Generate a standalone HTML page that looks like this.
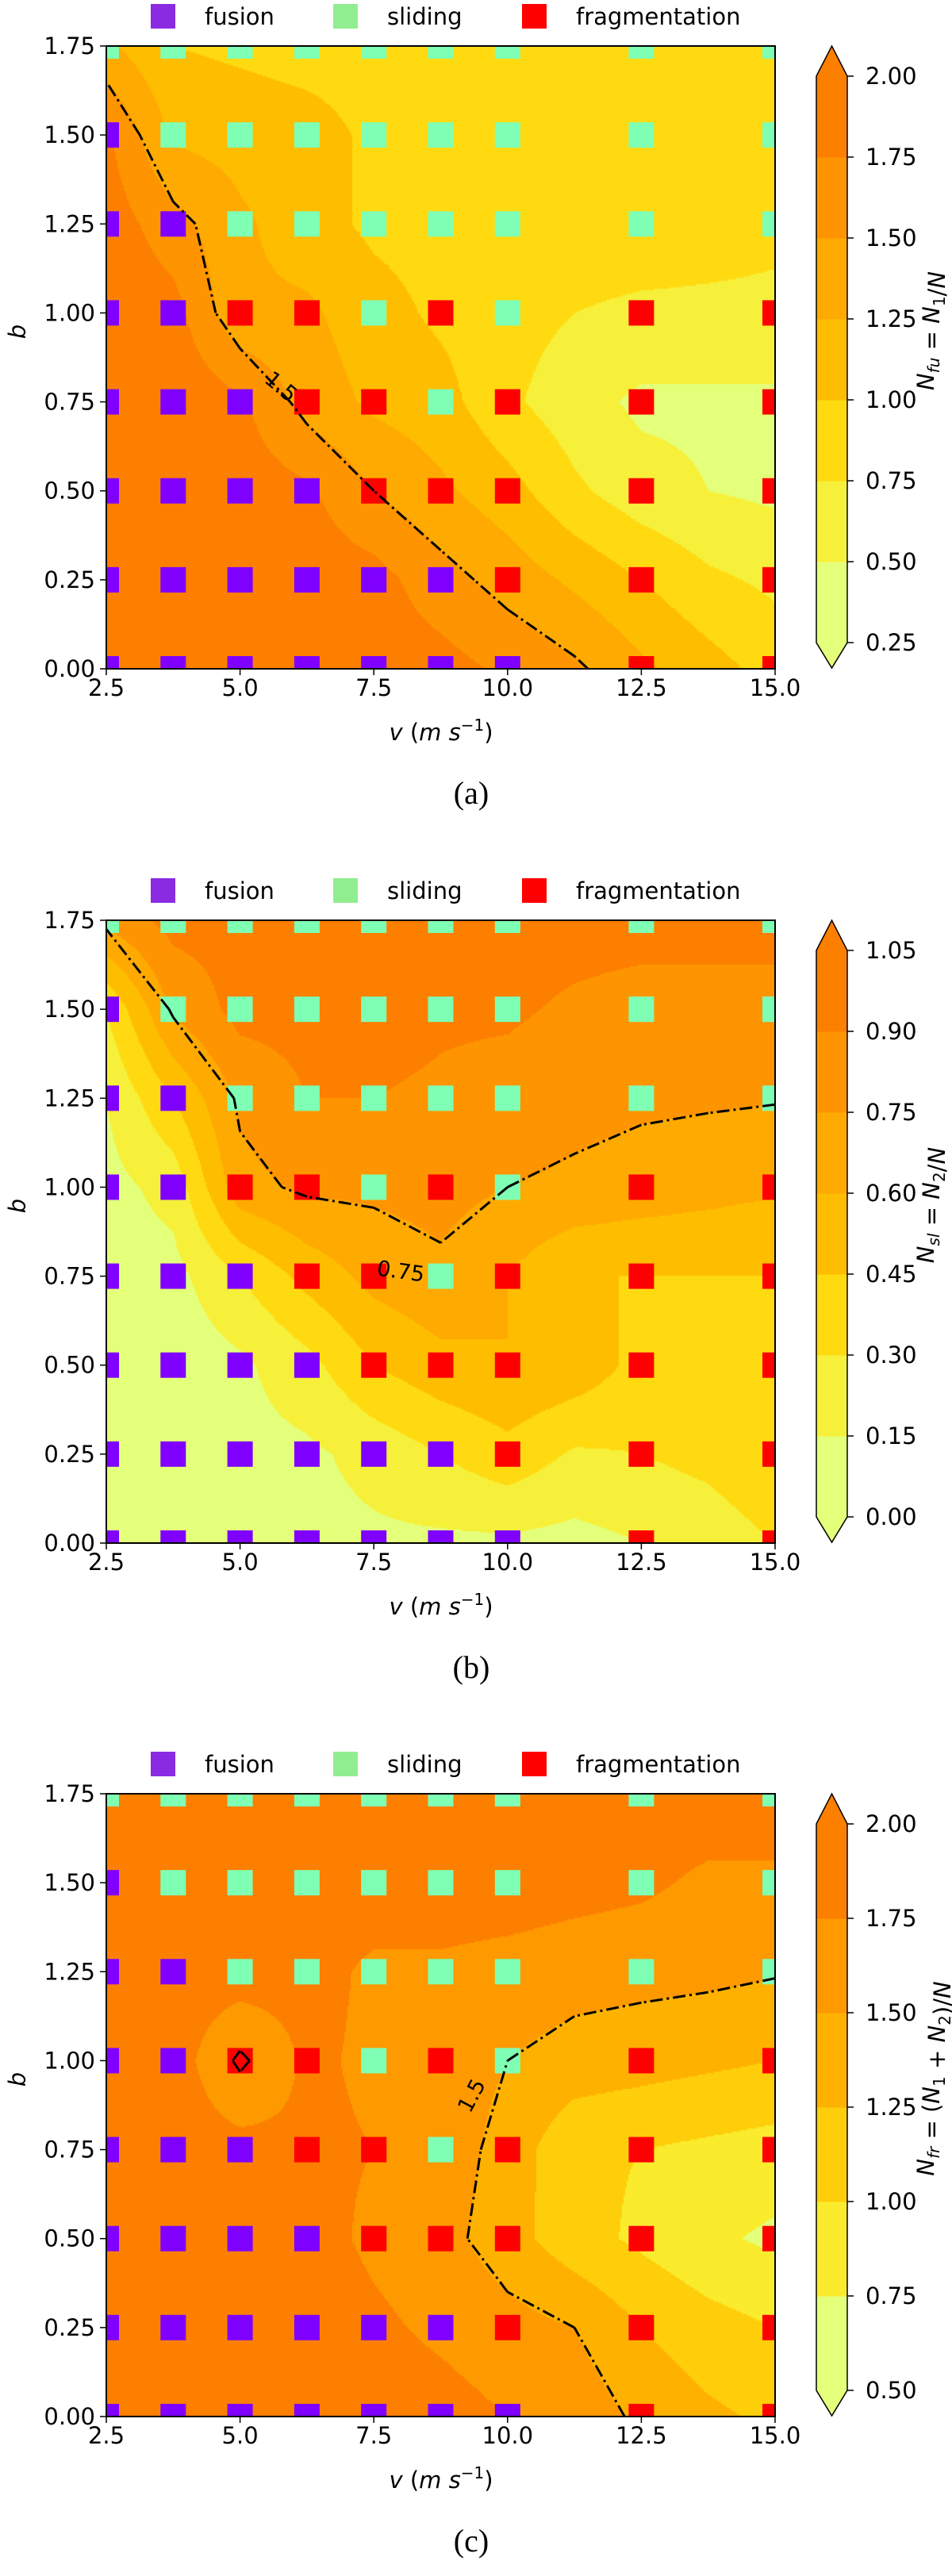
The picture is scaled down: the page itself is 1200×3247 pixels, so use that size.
<!DOCTYPE html>
<html><head><meta charset="utf-8">
<style>
html,body{margin:0;padding:0;background:#fff;}
#wrap{position:relative;width:1200px;height:3247px;overflow:hidden;}
canvas{position:absolute;left:0;}
svg{position:absolute;left:0;top:0;}
text{font-family:"DejaVu Sans","Liberation Sans",sans-serif;fill:#000;}
</style></head>
<body>
<div id="wrap">
<canvas id="c0" width="843" height="785" style="left:134px;top:58px"></canvas>
<canvas id="c1" width="843" height="785" style="left:134px;top:1160px"></canvas>
<canvas id="c2" width="843" height="785" style="left:134px;top:2261px"></canvas>
<svg id="svg" width="1200" height="3247" xmlns="http://www.w3.org/2000/svg"></svg>
</div>
<script>
// ---- data ----
const vGrid = [2.5,3.75,5,6.25,7.5,8.75,10,11.25,12.5,13.75,15];
const bGrid = [0,0.25,0.5,0.75,1.0,1.25,1.5,1.75];
// rows from b=0 upward
const nfuValues = [
 [1.95,1.95,1.95,1.95,1.9,1.85,1.7,1.55,1.3,1.1,0.9],
 [1.95,1.95,1.95,1.9,1.85,1.6,1.4,1.2,1.0,0.8,0.7],
 [1.95,1.95,1.9,1.8,1.5,1.3,1.1,0.8,0.6,0.5,0.45],
 [1.95,1.95,1.8,1.4,1.2,1.1,0.8,0.6,0.45,0.45,0.45],
 [1.95,1.85,1.3,1.3,1.1,0.95,0.85,0.75,0.7,0.7,0.7],
 [1.9,1.6,1.3,1.1,0.95,0.9,0.9,0.9,0.9,0.85,0.8],
 [1.8,1.2,1.15,1.1,0.95,0.9,0.9,0.9,0.9,0.9,0.9],
 [1.3,1.0,0.95,0.9,0.9,0.9,0.9,0.9,0.9,0.9,0.9]
];
const nslValues = [
 [0.1,0.1,0.1,0.1,0.12,0.12,0.12,0.1,0.15,0.2,0.3],
 [0.1,0.05,0.1,0.12,0.2,0.3,0.4,0.28,0.3,0.35,0.45],
 [0.05,0.05,0.12,0.25,0.45,0.55,0.6,0.55,0.4,0.35,0.3],
 [0.08,0.1,0.3,0.5,0.65,0.72,0.6,0.45,0.45,0.45,0.45],
 [0.1,0.2,0.7,0.78,0.78,0.8,0.75,0.72,0.68,0.65,0.62],
 [0.15,0.45,0.78,0.9,0.9,0.88,0.85,0.8,0.78,0.77,0.76],
 [0.3,0.78,0.95,0.95,0.95,0.92,0.92,0.88,0.85,0.85,0.85],
 [0.8,0.95,0.95,0.95,0.95,0.95,0.95,0.95,0.95,0.95,0.95]
];
const nfrValues = [
 [1.9,1.9,1.9,1.9,1.9,1.85,1.75,1.65,1.45,1.3,1.2],
 [1.9,1.9,1.9,1.9,1.8,1.7,1.6,1.5,1.25,1.1,1.0],
 [1.9,1.9,1.9,1.85,1.7,1.6,1.35,1.1,0.95,0.8,0.7],
 [1.9,1.9,1.85,1.8,1.75,1.65,1.4,1.05,1.0,0.95,0.9],
 [1.9,1.9,1.45,1.8,1.7,1.65,1.5,1.4,1.35,1.3,1.25],
 [1.9,1.9,1.9,1.85,1.7,1.7,1.65,1.6,1.58,1.56,1.52],
 [1.9,1.9,2.05,1.9,1.9,1.9,1.9,1.85,1.8,1.7,1.7],
 [1.9,1.9,1.9,1.9,1.9,1.9,1.9,1.9,1.9,1.9,1.9]
];
const levelsA = [0.25,0.5,0.75,1.0,1.25,1.5,1.75,2.0];
const levelsB = [0,0.15,0.3,0.45,0.6,0.75,0.9,1.05];
const levelsC = [0.5,0.75,1.0,1.25,1.5,1.75,2.0];
const tickLabelsA = ["0.25","0.50","0.75","1.00","1.25","1.50","1.75","2.00"];
const tickLabelsB = ["0.00","0.15","0.30","0.45","0.60","0.75","0.90","1.05"];
const tickLabelsC = ["0.50","0.75","1.00","1.25","1.50","1.75","2.00"];
const contourLevelA = 1.5, contourLevelB = 0.75, contourLevelC = 1.5;
// outcome markers
const markerV = [2.5,3.75,5,6.25,7.5,8.75,10,12.5,15];
const markerB = [0,0.25,0.5,0.75,1.0,1.25,1.5,1.75];
// F=fusion S=sliding R=fragmentation, rows from b=0 upward
const outcomes = [
 "FFFFFFFRR",
 "FFFFFFRRR",
 "FFFFRRRRR",
 "FFFRRSRRR",
 "FFRRSRSRR",
 "FFSSSSSSS",
 "FSSSSSSSS",
 "SSSSSSSSS"
];
const xTicks = [2.5,5.0,7.5,10.0,12.5,15.0];
const xTickLabels = ["2.5","5.0","7.5","10.0","12.5","15.0"];
const yTicks = [0,0.25,0.5,0.75,1.0,1.25,1.5,1.75];
const yTickLabels = ["0.00","0.25","0.50","0.75","1.00","1.25","1.50","1.75"];

// ---- geometry ----
const PL=134, PW=843, PT=58, PH=785;
const CBX=1029, CBW=39, CBT=96, CBB=810;
const NS="http://www.w3.org/2000/svg";
const svg=document.getElementById('svg');
function el(tag,attrs,parent){const e=document.createElementNS(NS,tag);for(const k in attrs)e.setAttribute(k,attrs[k]);(parent||svg).appendChild(e);return e;}

function wistia(t){
  const r=[[0,.894],[.25,1],[.5,1],[.75,1],[1,.988]];
  const g=[[0,1],[.25,.909],[.5,.741],[.75,.627],[1,.498]];
  const b=[[0,.478],[.25,.102],[.5,0],[.75,0],[1,0]];
  function ip(a){for(let i=0;i<a.length-1;i++){if(t<=a[i+1][0]){const f=(t-a[i][0])/(a[i+1][0]-a[i][0]);return a[i][1]+f*(a[i+1][1]-a[i][1]);}}return a[a.length-1][1];}
  return [Math.round(ip(r)*255),Math.round(ip(g)*255),Math.round(ip(b)*255)];
}
function bandColors(n){const c=[];for(let i=0;i<n;i++)c.push(wistia(n===1?0:i/(n-1)));return c;}
function rgb(c){return 'rgb('+c[0]+','+c[1]+','+c[2]+')';}

function valAt(vals,v,b){
  let fi=(v-2.5)/1.25, fj=b/0.25;
  fi=Math.max(0,Math.min(9.9999,fi)); fj=Math.max(0,Math.min(6.9999,fj));
  const i=Math.floor(fi), j=Math.floor(fj), u=fi-i, w=fj-j;
  return vals[j][i]*(1-u)*(1-w)+vals[j][i+1]*u*(1-w)+vals[j+1][i]*(1-u)*w+vals[j+1][i+1]*u*w;
}

function panel(idx, off, vals, levels, tickLabels, cLevel, labelPos, labelText, labelRot, cbLabel, caption){
  const top=PT+off;
  const xs=v=>PL+(v-2.5)/12.5*PW;
  const ys=b=>top+PH*(1-b/1.75);
  const nb=levels.length-1;
  const cols=bandColors(nb);
  const ctx=document.getElementById('c'+idx).getContext('2d');
  const step=2;
  for(let py=0;py<PH;py+=step){
    for(let px=0;px<PW;px+=step){
      const v=2.5+(px+step/2)/PW*12.5, b=1.75*(1-(py+step/2)/PH);
      const z=valAt(vals,v,b);
      let k=0; while(k<nb-1 && z>=levels[k+1]) k++;
      ctx.fillStyle=rgb(cols[k]);
      ctx.fillRect(px,py,step,step);
    }
  }
  const g=el('g',{});
  
  
  const cp=el('clipPath',{id:'clip'+idx},g);
  el('rect',{x:PL,y:top,width:PW,height:PH},cp);
  const mg=el('g',{'clip-path':'url(#clip'+idx+')'},g);
  
  
  const mc={F:'#7f00ff',S:'#7fffb4',R:'#ff0000'};
  const mn={F:'fusion',S:'sliding',R:'fragmentation'};
  for(let j=0;j<markerB.length;j++)for(let i=0;i<markerV.length;i++){
    const t=outcomes[j][i];
    const r=el('rect',{x:xs(markerV[i])-16,y:ys(markerB[j])-16,width:32,height:32,fill:mc[t]},mg);
    
    
  }
  let d='';
  const Z=vals;
  function pt(v,b){return xs(v).toFixed(1)+' '+ys(b).toFixed(1);}
  for(let j=0;j<7;j++)for(let i=0;i<10;i++){
    const z00=Z[j][i],z10=Z[j][i+1],z01=Z[j+1][i],z11=Z[j+1][i+1];
    const v0=vGrid[i],v1=vGrid[i+1],b0=bGrid[j],b1=bGrid[j+1];
    const p=[];
    function cr(za,zb){return (za<cLevel)!==(zb<cLevel);}
    if(cr(z00,z10))p.push([v0+(cLevel-z00)/(z10-z00)*(v1-v0),b0]);
    if(cr(z10,z11))p.push([v1,b0+(cLevel-z10)/(z11-z10)*(b1-b0)]);
    if(cr(z11,z01))p.push([v1-(cLevel-z11)/(z01-z11)*(v1-v0),b1]);
    if(cr(z01,z00))p.push([v0,b1-(cLevel-z01)/(z00-z01)*(b1-b0)]);
    for(let k=0;k+1<p.length;k+=2)d+='M'+pt(p[k][0],p[k][1])+'L'+pt(p[k+1][0],p[k+1][1]);
  }
  const cl=el('path',{d:d,fill:'none',stroke:'#000','stroke-width':3,'stroke-dasharray':'16 5 3 5','clip-path':'url(#clip'+idx+')'},g);
  
  
  const lt=el('text',{x:xs(labelPos[0]),y:ys(labelPos[1]),'font-size':27,'text-anchor':'middle','dominant-baseline':'middle',transform:'rotate('+labelRot+' '+xs(labelPos[0])+' '+ys(labelPos[1])+')'},g);
  lt.textContent=labelText;
  
  
  const fr=el('rect',{x:PL,y:top,width:PW,height:PH,fill:'none',stroke:'#000','stroke-width':2},g);
  
  
  for(let i=0;i<xTicks.length;i++){
    const x=xs(xTicks[i]);
    el('line',{x1:x,x2:x,y1:top+PH,y2:top+PH+8,stroke:'#000','stroke-width':1.5},g);
    const t=el('text',{x:x,y:top+PH+34,'font-size':29,'text-anchor':'middle'},g);
    t.textContent=xTickLabels[i];
    
    
  }
  for(let i=0;i<yTicks.length;i++){
    const y=ys(yTicks[i]);
    el('line',{x1:PL-8,x2:PL,y1:y,y2:y,stroke:'#000','stroke-width':1.5},g);
    const t=el('text',{x:PL-14,y:y+10,'font-size':29,'text-anchor':'end'},g);
    t.textContent=yTickLabels[i];
    
    
  }
  const xl=el('text',{x:556,y:top+PH+90,'font-size':29,'text-anchor':'middle'},g);
  xl.innerHTML='<tspan font-style="italic">v</tspan> (<tspan font-style="italic">m s</tspan><tspan font-size="20" dy="-12">−1</tspan><tspan dy="12">)</tspan>';
  
  
  const yl=el('text',{x:32,y:top+360,'font-size':29,'font-style':'italic','text-anchor':'middle',transform:'rotate(-90 32 '+(top+360)+')'},g);
  yl.textContent='b';
  
  
  const lg=el('g',{},g);
  
  
  const leg=[['fusion','#8a2be2',190],['sliding','#90ee90',420],['fragmentation','#ff0000',658]];
  leg.forEach(L=>{
    const s=el('rect',{x:L[2],y:off+5,width:31,height:31,fill:L[1]},lg);
    
    
    const t=el('text',{x:L[2]+68,y:off+31,'font-size':29},lg);
    t.textContent=L[0];
    
    
  });
  const cb=el('g',{},g);
  
  
  const cbT=CBT+off, cbB=CBB+off;
  const cy=z=>cbB-(z-levels[0])/(levels[nb]-levels[0])*(cbB-cbT);
  for(let k=0;k<nb;k++){
    el('rect',{x:CBX,y:cy(levels[k+1]),width:CBW,height:cy(levels[k])-cy(levels[k+1])+0.5,fill:rgb(cols[k])},cb);
  }
  el('polygon',{points:CBX+','+cbT+' '+(CBX+CBW/2)+','+(cbT-38)+' '+(CBX+CBW)+','+cbT,fill:rgb(cols[nb-1])},cb);
  el('polygon',{points:CBX+','+cbB+' '+(CBX+CBW/2)+','+(cbB+32)+' '+(CBX+CBW)+','+cbB,fill:rgb(cols[0])},cb);
  el('path',{d:'M'+CBX+' '+cbT+'L'+(CBX+CBW/2)+' '+(cbT-38)+'L'+(CBX+CBW)+' '+cbT+'L'+(CBX+CBW)+' '+cbB+'L'+(CBX+CBW/2)+' '+(cbB+32)+'L'+CBX+' '+cbB+'Z',fill:'none',stroke:'#000','stroke-width':1.5},cb);
  for(let k=0;k<=nb;k++){
    const y=cy(levels[k]);
    el('line',{x1:CBX+CBW,x2:CBX+CBW+8,y1:y,y2:y,stroke:'#000','stroke-width':1.5},cb);
    const t=el('text',{x:1091,y:y+10,'font-size':29},cb);
    t.textContent=tickLabels[k];
    
    
  }
  const cbl=el('text',{x:1177,y:off+417,'font-size':29,'text-anchor':'middle',transform:'rotate(-90 1177 '+(off+417)+')'},cb);
  cbl.innerHTML=cbLabel;
  
  
  const cap=el('text',{x:594,y:off+1013,'font-size':40,'text-anchor':'middle',style:'font-family:"Liberation Serif",serif'},g);
  cap.textContent=caption;
  
  
}
const sub=(s)=>'<tspan font-size="20" dy="7" font-style="italic">'+s+'</tspan><tspan dy="-7"></tspan>';
const subN=(s)=>'<tspan font-size="20" dy="7">'+s+'</tspan><tspan dy="-7"></tspan>';
panel(0,0,nfuValues,levelsA,tickLabelsA,contourLevelA,[5.75,0.79],'1.5',40,
 '<tspan font-style="italic">N</tspan>'+sub('fu')+' = <tspan font-style="italic">N</tspan>'+subN('1')+'/<tspan font-style="italic">N</tspan>','(a)');
panel(1,1102,nslValues,levelsB,tickLabelsB,contourLevelB,[8.0,0.76],'0.75',8,
 '<tspan font-style="italic">N</tspan>'+sub('sl')+' = <tspan font-style="italic">N</tspan>'+subN('2')+'/<tspan font-style="italic">N</tspan>','(b)');
panel(2,2203,nfrValues,levelsC,tickLabelsC,contourLevelC,[9.35,0.9],'1.5',-62,
 '<tspan font-style="italic">N</tspan>'+sub('fr')+' = (<tspan font-style="italic">N</tspan>'+subN('1')+' + <tspan font-style="italic">N</tspan>'+subN('2')+')/<tspan font-style="italic">N</tspan>','(c)');
</script>
</body></html>
